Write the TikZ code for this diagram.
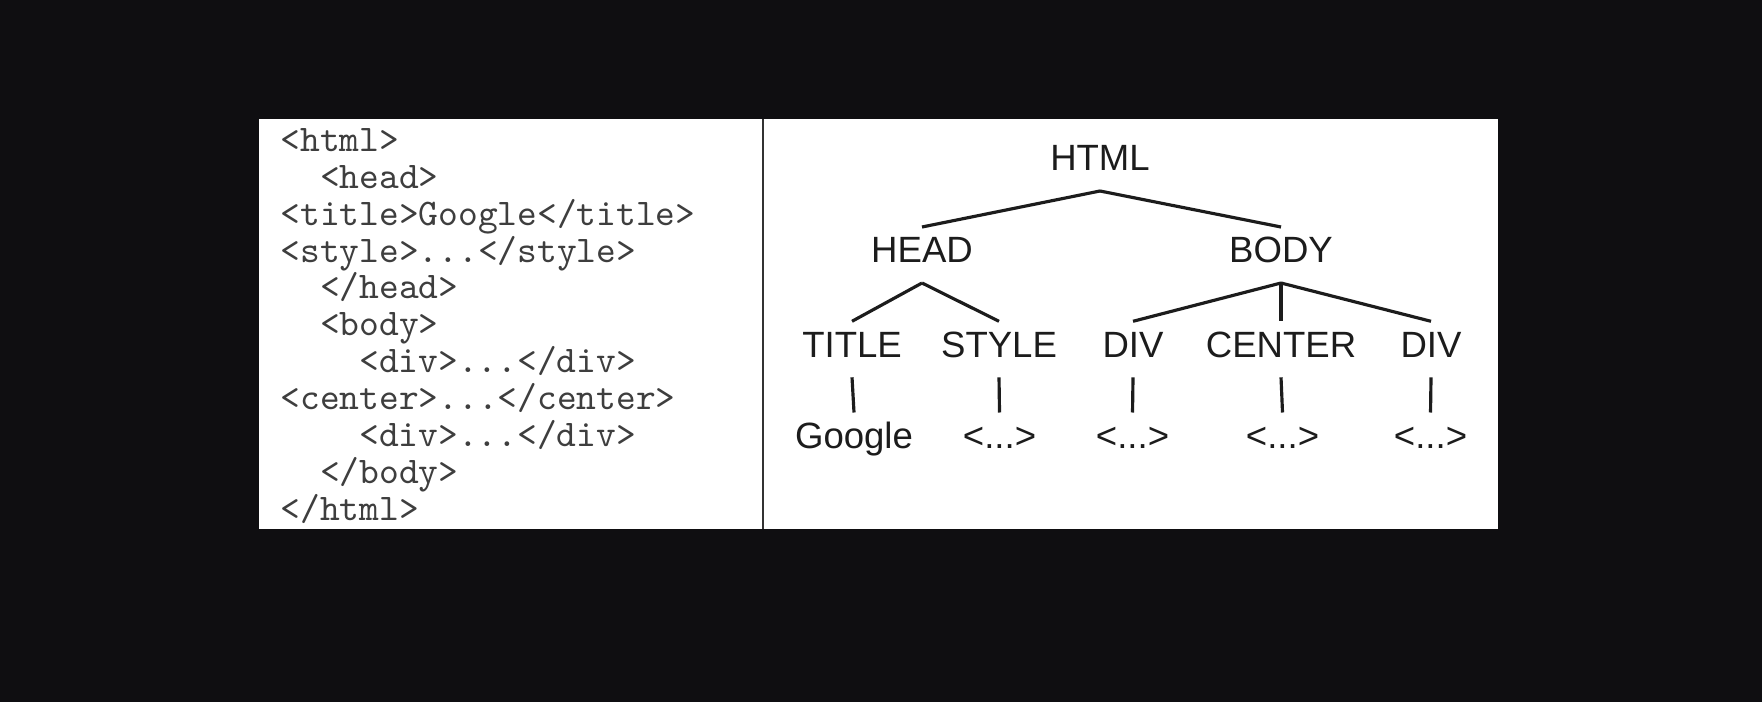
\documentclass[tikz,border=0pt]{standalone}
\usepackage{fontspec}
\setmainfont{Liberation Sans}
\usepackage{tikz}

\definecolor{screen}{RGB}{15,14,17}
\definecolor{ink}{RGB}{28,28,28}
\tikzset{
	codeline/.style={anchor=base west, inner sep=0pt, font=\fontsize{10.7}{12}\selectfont\ttfamily, text=ink!85},
	tag/.style={anchor=base, inner sep=0pt, font=\fontsize{10.4}{12}\selectfont, text=ink},
	branch/.style={draw=ink, line width=0.9pt}
}

\begin{document}
\begin{tikzpicture}
	\fill[screen] (0,0) rectangle (17.62,-7.02);
	\fill[white] (2.585,-1.195) rectangle (14.98,-5.293);
	\draw[black!80, line width=0.7pt] (7.63,-1.195) -- (7.63,-5.293);
	\foreach \i/\ind/\txt in {0/0/{<html>},1/2/{<head>},2/0/{<title>Google</title>},3/0/{<style>...</style>},4/2/{</head>},5/2/{<body>},6/4/{<div>...</div>},7/0/{<center>...</center>},8/4/{<div>...</div>},9/2/{</body>},10/0/{</html>}}
	\node[codeline] (line\i) at (2.8+\ind*0.197,-1.515-\i*0.3685) {\txt};
	\node[tag] (html) at (11.00,-1.71) {HTML};
	\node[tag] (head) at (9.22,-2.63) {HEAD};
	\node[tag] (body) at (12.81,-2.63) {BODY};
	\node[tag] (title) at (8.52,-3.573) {TITLE};
	\node[tag] (style) at (9.99,-3.573) {STYLE};
	\node[tag] (divA) at (11.33,-3.573) {DIV};
	\node[tag] (center) at (12.81,-3.573) {CENTER};
	\node[tag] (divB) at (14.31,-3.573) {DIV};
	\node[tag] (google) at (8.54,-4.485) {Google};
	\node[tag] (dotsA) at (9.995,-4.485) {<...>};
	\node[tag] (dotsB) at (11.325,-4.485) {<...>};
	\node[tag] (dotsC) at (12.825,-4.485) {<...>};
	\node[tag] (dotsD) at (14.305,-4.485) {<...>};
	\foreach \a/\b in {html/head,html/body,head/title,head/style,body/divA,body/center,body/divB,title/google,style/dotsA,divA/dotsB,center/dotsC,divB/dotsD}
	\draw[branch] ([yshift=-0.2cm]\a.base) -- ([yshift=0.36cm]\b.base);
\end{tikzpicture}
\end{document}
